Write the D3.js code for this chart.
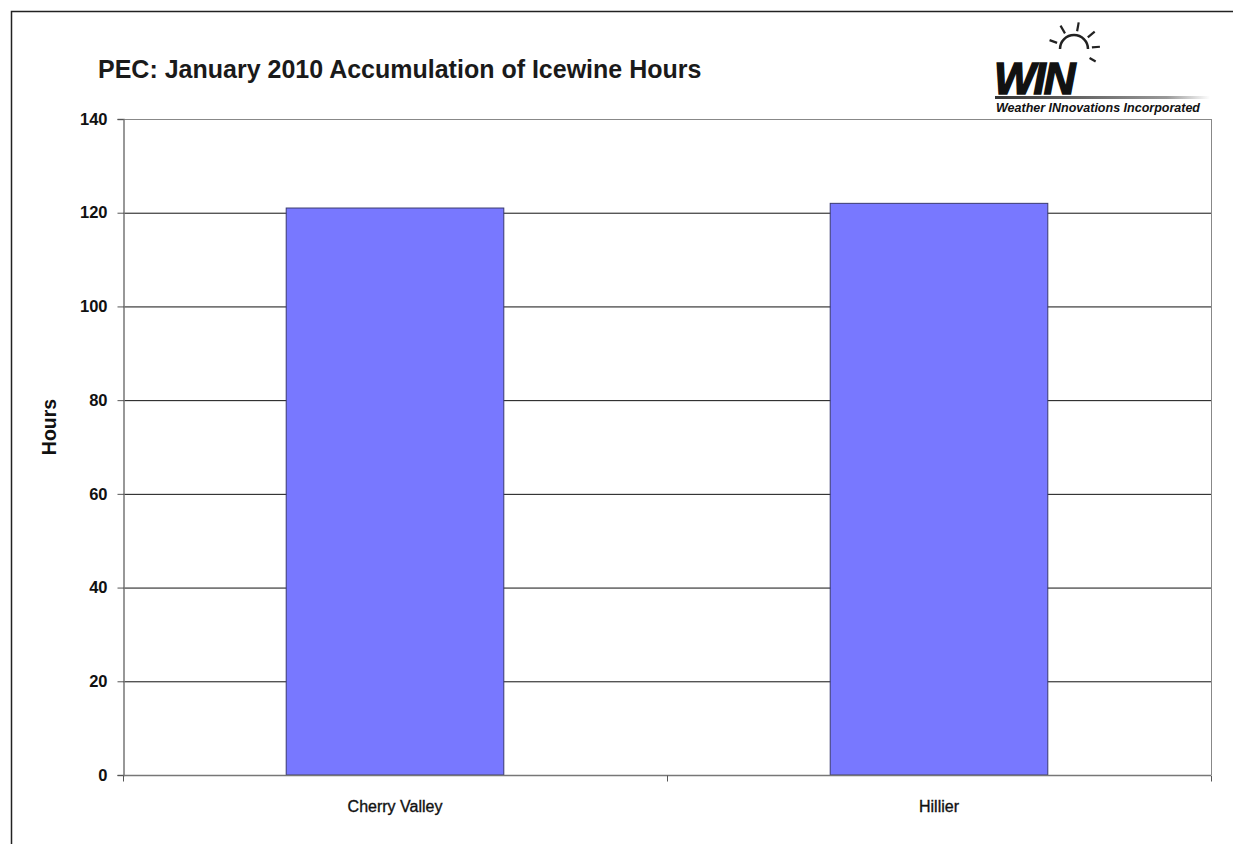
<!DOCTYPE html>
<html>
<head>
<meta charset="utf-8">
<script src="https://cdn.jsdelivr.net/npm/d3@7"></script>
<style>
  body { margin: 0; background: #fff; }
  text { font-family: Arial, "Liberation Sans", sans-serif; }
</style>
</head>
<body>
<svg id="chart" width="1233" height="844"></svg>
<script>
const categories = ["Cherry Valley", "Hillier"]
const hours = [121, 122]
const yTicks = [0, 20, 40, 60, 80, 100, 120, 140]

const svg = d3.select("#chart")
const m = {left: 123, right: 1211, top: 119, bottom: 775}

// outer frame
svg.append("rect").attr("x", 11.5).attr("y", 11.5).attr("width", 1240).attr("height", 850)
    .attr("fill", "none").attr("stroke", "#222").attr("stroke-width", 1.5)

const x = d3.scaleBand().domain(categories).range([m.left, m.right]).paddingInner(0.6).paddingOuter(0.3)
const y = d3.scaleLinear().domain([0, 140]).range([m.bottom, m.top])

// gridlines
svg.append("g").selectAll("line").data(yTicks.filter(t => t > 0)).enter().append("line")
    .attr("x1", m.left).attr("x2", m.right)
    .attr("y1", d => y(d) + 0.5).attr("y2", d => y(d) + 0.5)
    .attr("stroke", d => d == 140 ? "#888" : "#111").attr("stroke-width", 1)

// right border of plot
svg.append("line").attr("x1", m.right + 0.5).attr("x2", m.right + 0.5)
    .attr("y1", m.top).attr("y2", m.bottom).attr("stroke", "#888")

// bars
svg.append("g").selectAll("rect").data(hours).enter().append("rect")
    .attr("x", (d, i) => x(categories[i]))
    .attr("y", d => y(d))
    .attr("width", x.bandwidth())
    .attr("height", d => y(0) - y(d))
    .attr("fill", "#7878ff").attr("stroke", "#3a3a70").attr("stroke-width", 1)

// y axis
const yAxis = svg.append("g").attr("transform", `translate(${m.left + 0.5},0)`)
    .call(d3.axisLeft(y).tickValues(yTicks).tickSize(6).tickPadding(10))
yAxis.select(".domain").attr("stroke", "#777").attr("stroke-width", 1.5)
yAxis.selectAll(".tick line").attr("stroke", "#555")
yAxis.selectAll("text").attr("font-size", 16.5).attr("font-weight", "bold").attr("fill", "#111")

// x axis, ticks at category boundaries
const xAxis = svg.append("g").attr("transform", `translate(0,${m.bottom + 0.5})`)
xAxis.append("line").attr("x1", m.left).attr("x2", m.right).attr("stroke", "#777").attr("stroke-width", 1.5)
const bounds = [m.left, m.left + (m.right - m.left) / 2, m.right]
xAxis.selectAll(".xt").data(bounds).enter().append("line")
    .attr("x1", d => d + 0.5).attr("x2", d => d + 0.5).attr("y1", 0).attr("y2", 6).attr("stroke", "#555")
xAxis.selectAll(".xl").data(categories).enter().append("text")
    .attr("x", d => x(d) + x.bandwidth() / 2).attr("y", 36)
    .attr("text-anchor", "middle").attr("font-size", 16)
    .attr("fill", "#111").attr("stroke", "#111").attr("stroke-width", 0.35).text(d => d)

// y title
svg.append("text").attr("transform", "translate(56,427) rotate(-90)")
    .attr("text-anchor", "middle").attr("font-size", 19.5).attr("font-weight", "bold").attr("fill", "#111").text("Hours")

// chart title
svg.append("text").attr("x", 98).attr("y", 78).attr("font-size", 25).attr("font-weight", "bold").attr("fill", "#1a1a1a")
    .text("PEC: January 2010 Accumulation of Icewine Hours")

// logo
const logo = svg.append("g")
const grad = svg.append("defs").append("linearGradient").attr("id", "lg")
grad.append("stop").attr("offset", "0%").attr("stop-color", "#333")
grad.append("stop").attr("offset", "80%").attr("stop-color", "#999")
grad.append("stop").attr("offset", "100%").attr("stop-color", "#fff")
logo.append("text").attr("x", 994).attr("y", 94).attr("font-size", 44).attr("font-weight", "900")
    .attr("font-style", "italic").attr("fill", "#111").attr("letter-spacing", -2)
    .attr("stroke", "#111").attr("stroke-width", 1.5).text("WIN")
logo.append("rect").attr("x", 995).attr("y", 96).attr("width", 215).attr("height", 3).attr("fill", "url(#lg)")
logo.append("text").attr("x", 996).attr("y", 112).attr("font-size", 12.5).attr("font-weight", "bold")
    .attr("font-style", "italic").attr("fill", "#111").text("Weather INnovations Incorporated")
// sun
const cx = 1074, cy = 49
logo.append("path").attr("d", `M${cx - 14},${cy} A14,14 0 0 1 ${cx + 14},${cy}`)
    .attr("fill", "none").attr("stroke", "#222").attr("stroke-width", 2.5)
const rays = [[-160, 8], [-120, 9], [-80, 9], [-40, 9], [-5, 8], [30, 7]]
rays.forEach(r => {
    const a = r[0] * Math.PI / 180
    logo.append("line")
        .attr("x1", cx + 18 * Math.cos(a)).attr("y1", cy + 18 * Math.sin(a))
        .attr("x2", cx + (18 + r[1]) * Math.cos(a)).attr("y2", cy + (18 + r[1]) * Math.sin(a))
        .attr("stroke", "#222").attr("stroke-width", 2.2)
})
</script>
</body>
</html>
